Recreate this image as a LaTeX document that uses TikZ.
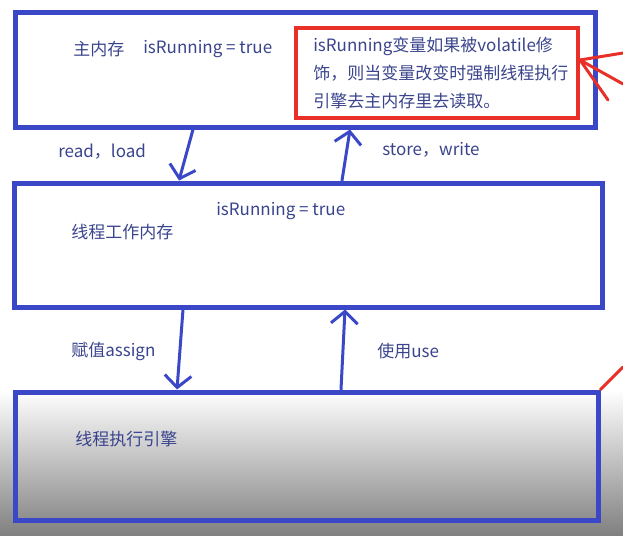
\documentclass[tikz,border=0pt]{standalone}
\usepackage{fontspec}
\newfontfamily\cjk{Noto Sans CJK SC}
\usetikzlibrary{positioning,arrows.meta,calc}

\definecolor{penblue}{RGB}{58,72,200}
\definecolor{inkblue}{RGB}{58,68,140}
\definecolor{penred}{RGB}{232,48,40}
\definecolor{shadegray}{RGB}{128,128,128}

\begin{document}
\begin{tikzpicture}[
    x=0.75pt, y=-0.75pt,
    >={Straight Barb[length=9pt,width=20pt]},
    box/.style={
        rectangle,
        draw=penblue,
        line width=3.75pt
    },
    notebox/.style={
        rectangle,
        draw=penred,
        line width=3pt,
        minimum width=211.5pt,
        minimum height=67.5pt
    },
    txt/.style={
        anchor=west,
        inner sep=0pt,
        text=inkblue,
        font=\cjk\fontsize{12.75}{21}\selectfont
    },
    flow/.style={
        ->,
        draw=penblue,
        line width=2.25pt,
        line cap=round
    },
    redpen/.style={
        draw=penred,
        line width=2.25pt,
        line cap=round
    }
]
\useasboundingbox (0,0) rectangle (623,535);

% screen shading behind the bottom box
\shade[top color=white, bottom color=shadegray] (0,390) rectangle (623,535);

% three memory levels
\node[box, minimum width=435pt, minimum height=85.5pt] (mem) at (305,70) {};
\node[box, minimum width=441pt, minimum height=93pt] (work) at (308,245) {};
\node[box, minimum width=437.25pt, minimum height=96pt] (engine) at (306.5,456) {};

% red remark
\node[notebox] (note) at (437,73) {};

\node[txt] (memname) at (73,49) {主内存};
\node[txt] (memvar) at (143,49) {isRunning = true};
\node[txt, align=left, anchor=north west] (notetext) at (313,37) {isRunning变量如果被volatile修\\饰，则当变量改变时强制线程执行\\引擎去主内存里去读取。};

\node[txt] (workvar) at (216,211) {isRunning = true};
\node[txt] (workname) at (71,232) {线程工作内存};
\node[txt] (enginename) at (75,439) {线程执行引擎};

% operations
\draw[flow] (mem.south -| 193,0) -- (work.north -| 179,0);
\draw[flow] (work.north -| 342,0) -- (mem.south -| 350,0);
\draw[flow] (work.south -| 183,0) -- (engine.north -| 177,0);
\draw[flow] (engine.north -| 341,0) -- (work.south -| 345,0);

\node[txt] (readload) at (58,152) {read，load};
\node[txt] (storewrite) at (382,150) {store，write};
\node[txt] (assign) at (71,351) {赋值assign};
\node[txt] (use) at (377,351) {使用use};

% red pen strokes
\coordinate (markA) at (623,53);
\coordinate (markB) at (623,84);
\coordinate (markC) at (608,100);
\coordinate (markD) at (623,367);
\draw[redpen] (note.east |- 0,60) -- (markA);
\draw[redpen] (note.east |- 0,60) -- (markB);
\draw[redpen] (note.east |- 0,60) -- (markC);
\draw[redpen] (engine.north east) -- (markD);

\end{tikzpicture}
\end{document}
